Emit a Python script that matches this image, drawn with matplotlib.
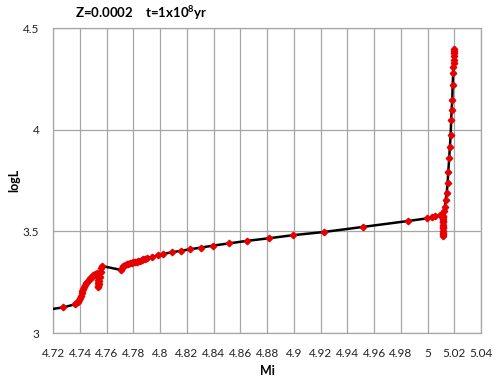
import matplotlib
matplotlib.use("Agg")
import matplotlib.pyplot as plt
import numpy as np

# Data (Mi, logL)
mi = [4.716, 4.7275, 4.7362, 4.7372, 4.7383, 4.7392, 4.7400, 4.7406, 4.7412, 4.7418,
      4.7424, 4.7430, 4.7437, 4.7445, 4.7454, 4.7464, 4.7475, 4.7487, 4.7499, 4.7512,
      4.7525, 4.7530, 4.7532, 4.7534, 4.7536, 4.7537, 4.7540, 4.7545, 4.7550, 4.7554,
      4.7557, 4.7562,
      4.7707, 4.7715, 4.7724, 4.7736, 4.7749, 4.7761, 4.7774, 4.7786, 4.7798, 4.7811,
      4.7824, 4.7836, 4.7849, 4.7861, 4.7873, 4.7886, 4.7899, 4.7936, 4.7985, 4.8023,
      4.8086, 4.8153, 4.8223, 4.8303, 4.8397, 4.8517, 4.8647, 4.8813, 4.8991, 4.9227,
      4.9519, 4.9856, 4.9998, 5.0031, 5.0055, 5.0092, 5.0105, 5.0112, 5.0113, 5.0113,
      5.0112, 5.0112, 5.0112, 5.0113, 5.0114, 5.0115, 5.0116, 5.0117, 5.0117, 5.0123,
      5.0130, 5.0135, 5.0143, 5.0150, 5.0155, 5.0162, 5.0167, 5.0173, 5.0177, 5.0180,
      5.0185, 5.0188, 5.0192, 5.0192, 5.0197, 5.0197, 5.0197, 5.0200, 5.0199, 5.0200]
logL = [3.115, 3.126, 3.141, 3.147, 3.154, 3.162, 3.171, 3.183, 3.195, 3.205,
        3.215, 3.226, 3.236, 3.244, 3.252, 3.260, 3.269, 3.277, 3.285, 3.291,
        3.297, 3.282, 3.261, 3.245, 3.232, 3.228, 3.240, 3.258, 3.277, 3.298,
        3.318, 3.330,
        3.310, 3.322, 3.330, 3.334, 3.338, 3.341, 3.343, 3.346, 3.348, 3.350,
        3.351, 3.353, 3.356, 3.359, 3.362, 3.365, 3.367, 3.374, 3.382, 3.389,
        3.397, 3.404, 3.412, 3.420, 3.430, 3.441, 3.453, 3.466, 3.481, 3.497,
        3.522, 3.551, 3.564, 3.569, 3.575, 3.580, 3.582, 3.575, 3.560, 3.545,
        3.530, 3.515, 3.500, 3.485, 3.478, 3.490, 3.520, 3.550, 3.572, 3.600,
        3.621, 3.654, 3.687, 3.736, 3.793, 3.859, 3.916, 3.974, 4.048, 4.097,
        4.146, 4.220, 4.280, 4.310, 4.326, 4.345, 4.362, 4.376, 4.385, 4.395]

x_ticks = [4.72, 4.74, 4.76, 4.78, 4.80, 4.82, 4.84, 4.86, 4.88, 4.90,
           4.92, 4.94, 4.96, 4.98, 5.00, 5.02, 5.04]
x_tick_labels = ["4.72", "4.74", "4.76", "4.78", "4.8", "4.82", "4.84", "4.86", "4.88",
                 "4.9", "4.92", "4.94", "4.96", "4.98", "5", "5.02", "5.04"]
y_ticks = [3.0, 3.5, 4.0, 4.5]
y_tick_labels = ["3", "3.5", "4", "4.5"]

plt.rcParams['font.family'] = ['Lato', 'DejaVu Sans']
plt.rcParams['mathtext.fontset'] = 'custom'
plt.rcParams['mathtext.rm'] = 'Lato:bold'
plt.rcParams['mathtext.it'] = 'Lato:bold'
plt.rcParams['mathtext.bf'] = 'Lato:bold'

fig = plt.figure(figsize=(5, 3.84), dpi=100)
ax = fig.add_axes([0.1066, 0.1328, 0.8554, 0.7942])

ax.plot(mi, logL, color='black', lw=1.8, marker='D', ms=3.3,
        mfc='#e60000', mec='#e60000', clip_on=True, zorder=3)

ax.set_xlim(4.72, 5.04)
ax.set_ylim(3.0, 4.5)
ax.set_xticks(x_ticks)
ax.set_xticklabels(x_tick_labels, fontsize=8.5)
ax.set_yticks(y_ticks)
ax.set_yticklabels(y_tick_labels, fontsize=8.5)
ax.tick_params(axis='both', length=0, colors='#222222')
ax.tick_params(axis='x', pad=11)
ax.tick_params(axis='y', pad=10)
ax.grid(True, color='#a6a6a6', lw=0.9)
ax.set_axisbelow(True)
for s in ax.spines.values():
    s.set_color('#a6a6a6')
    s.set_linewidth(0.9)

ax.set_xlabel('Mi', fontsize=9, fontweight='bold', labelpad=4)
fig.text(14 / 500, 0.53, 'logL', rotation=90, fontsize=9, fontweight='bold',
         ha='center', va='center')

fig.text(0.15, 0.965, r'Z=0.0002    t=1x10$^{8}$yr', fontsize=9.5,
         fontweight='bold', ha='left', va='center')

fig.savefig('out.png', dpi=100)
